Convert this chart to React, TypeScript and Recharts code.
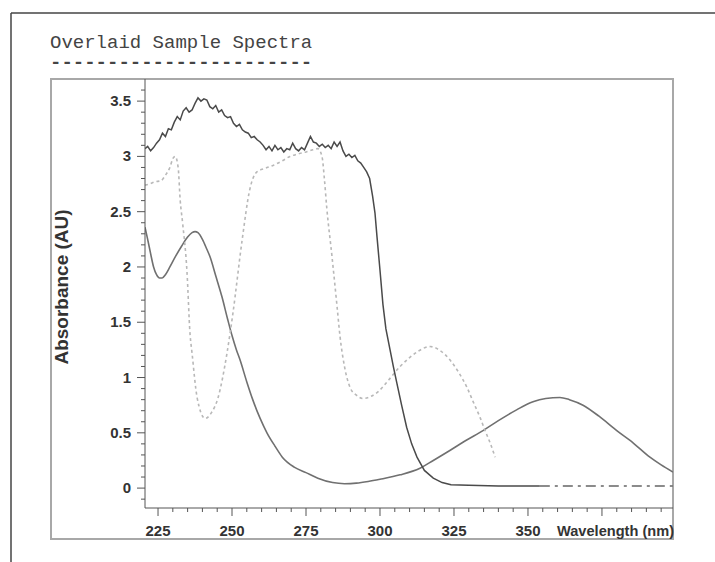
import React from "react";
import { LineChart, Line, XAxis, YAxis } from "recharts";

// ---- Data ----
const titleText = "Overlaid Sample Spectra";
const xAxisTitle = "Wavelength (nm)";
const yAxisTitle = "Absorbance (AU)";

// Series A: dark noisy spectrum (saturates, then cuts off near 300 nm)
const seriesAWavelength = [
  220.6, 221.5, 222.5, 223.5, 224.5, 225.5, 226.5, 227.5, 228.5, 229.5,
  230.5, 231.5, 232.5, 233.5, 234.5, 235.5, 236.5, 237.5, 238.5, 239.5,
  240.5, 241.5, 242.5, 243.5, 244.5, 245.5, 246.5, 247.5, 248.5, 249.5,
  250.5, 251.5, 252.5, 253.5, 254.5, 255.5, 256.5, 257.5, 258.5, 259.5,
  260.5, 261.5, 262.5, 263.5, 264.5, 265.5, 266.5, 267.5, 268.5, 269.5,
  270.5, 271.5, 272.5, 273.5, 274.5, 275.5, 276.5, 277.5, 278.5, 279.5,
  280.5, 281.5, 282.5, 283.5, 284.5, 285.5, 286.5, 287.5, 288.5, 289.5,
  290.5, 291.5, 292.5, 293.5, 294.5, 295.5, 296.5, 297.5, 298.3, 299.0,
  300.0, 301.0, 302.0, 303.4, 304.5, 305.7, 307.3, 309.0, 310.7, 312.5,
  315, 318, 321, 324, 330, 340, 354,
];
const seriesAAbsorbance = [
  3.07, 3.09, 3.05, 3.08, 3.12, 3.15, 3.21, 3.18, 3.25, 3.24,
  3.31, 3.36, 3.33, 3.41, 3.44, 3.40, 3.42, 3.48, 3.53, 3.50,
  3.52, 3.51, 3.45, 3.43, 3.46, 3.40, 3.42, 3.37, 3.35, 3.36,
  3.30, 3.27, 3.29, 3.24, 3.22, 3.21, 3.17, 3.18, 3.15, 3.13,
  3.10, 3.06, 3.09, 3.05, 3.10, 3.06, 3.08, 3.04, 3.07, 3.06,
  3.12, 3.07, 3.05, 3.08, 3.06, 3.12, 3.18, 3.13, 3.12, 3.09,
  3.11, 3.08, 3.10, 3.07, 3.13, 3.09, 3.13, 3.05, 3.00, 3.02,
  2.99, 3.01, 2.96, 2.94, 2.90, 2.86, 2.80, 2.64, 2.49, 2.27,
  1.97, 1.66, 1.44, 1.25, 1.10, 0.95, 0.75, 0.55, 0.40, 0.28,
  0.16, 0.09, 0.05, 0.03, 0.025, 0.02, 0.02,
];
// dashed baseline tail of series A
const seriesATailWavelength = [354, 370, 385, 399];
const seriesATailAbsorbance = [0.02, 0.02, 0.018, 0.02];

// Series B: light dotted spectrum
const seriesBWavelength = [
  220.6, 222, 224, 226, 227.5, 229, 230, 230.8, 231.8, 232.5,
  233.3, 234.8, 235.8, 236.5, 238.2, 240.9, 243, 245.3, 248.3, 250.3,
  253.4, 256, 258.4, 261, 264, 267, 269.6, 272, 275, 277.4,
  279, 280.4, 281.2, 282, 283.8, 285.5, 286.5, 288, 289.9, 292,
  294.3, 297, 299.3, 303, 306.8, 310, 313, 316.9, 320, 323.6,
  326.5, 329.4, 331.5, 333.8, 335.5, 337.2, 338.9,
];
const seriesBAbsorbance = [
  2.74, 2.75, 2.77, 2.78, 2.83, 2.90, 2.98, 3.00, 2.90, 2.60,
  2.40, 1.95, 1.40, 1.22, 0.82, 0.63, 0.68, 0.82, 1.22, 1.58,
  2.24, 2.70, 2.86, 2.89, 2.92, 2.96, 3.00, 3.02, 3.04, 3.06,
  3.07, 3.00, 2.80, 2.54, 2.09, 1.64, 1.37, 1.10, 0.91, 0.84,
  0.81, 0.83, 0.87, 0.98, 1.10, 1.18, 1.24, 1.28, 1.25, 1.16,
  1.05, 0.91, 0.78, 0.64, 0.52, 0.41, 0.28,
];

// Series C: medium grey smooth spectrum
const seriesCWavelength = [
  220.6, 221.5, 222.5, 223.5, 224.5, 225.5, 226.4, 227.5, 229, 231,
  233, 235, 236.5, 237.5, 238.5, 240, 241.5, 242.6, 244.5, 246.6,
  248.5, 250, 251.5, 252.7, 255, 257, 259.5, 261.8, 264.5, 267,
  271, 275, 279, 284, 288, 292, 296, 300, 306.8, 313.5,
  318, 323.6, 329, 334.8, 340, 346.3, 351.7, 356, 360.8, 364,
  368.6, 374, 380, 385.5, 391.2, 395, 399,
];
const seriesCAbsorbance = [
  2.36, 2.25, 2.12, 2.00, 1.93, 1.90, 1.90, 1.93, 2.00, 2.10,
  2.19, 2.27, 2.31, 2.32, 2.31, 2.25, 2.16, 2.09, 1.92, 1.73,
  1.53, 1.38, 1.25, 1.16, 0.96, 0.80, 0.63, 0.50, 0.38, 0.28,
  0.19, 0.14, 0.09, 0.05, 0.04, 0.045, 0.06, 0.08, 0.12, 0.18,
  0.25, 0.34, 0.43, 0.52, 0.61, 0.71, 0.78, 0.81, 0.82, 0.80,
  0.75, 0.65, 0.52, 0.41, 0.28, 0.21, 0.145,
];

// Axis ticks
const xMajorTicks = [225, 250, 275, 300, 325, 350, 375];
const xLabelledTicks = [225, 250, 275, 300, 325, 350];
const xAllTicks = Array.from({ length: 35 }, (_, i) => 225 + i * 5); // 225..395
const yMajorTicks = [0, 0.5, 1, 1.5, 2, 2.5, 3, 3.5];
const yAllTicks = Array.from({ length: 38 }, (_, i) => Math.round((i - 1) * 10) / 100); // -0.1..3.6

const xDomain = [220.6, 399];
const yDomain = [-0.18, 3.7];

const zip = (xs: number[], ys: number[]) => xs.map((x, i) => ({ wl: x, abs: ys[i] }));

const dataA = zip(seriesAWavelength, seriesAAbsorbance);
const dataATail = zip(seriesATailWavelength, seriesATailAbsorbance);
const dataB = zip(seriesBWavelength, seriesBAbsorbance);
const dataC = zip(seriesCWavelength, seriesCAbsorbance);

const TICK_FONT = "'Liberation Sans', Arial, sans-serif";
const MONO_FONT = "'Liberation Mono', 'Courier New', monospace";
const AXIS_COLOR = "#555";
const TEXT_COLOR = "#333";

const XTick = (props: any) => {
  const { x, y, payload } = props;
  const v = payload.value;
  const isMajor = xMajorTicks.includes(v);
  const hasLabel = xLabelledTicks.includes(v);
  return (
    <g>
      <line x1={x} x2={x} y1={y} y2={y + (isMajor ? 8 : 4)} stroke={AXIS_COLOR} strokeWidth={1} />
      {hasLabel && (
        <text x={x} y={y + 28} textAnchor="middle" fontSize={15} fontWeight="bold" fontFamily={TICK_FONT} fill={TEXT_COLOR}>
          {v}
        </text>
      )}
    </g>
  );
};

const YTick = (props: any) => {
  const { x, y, payload } = props;
  const v = payload.value;
  const isMajor = yMajorTicks.some((m) => Math.abs(m - v) < 1e-6);
  return (
    <g>
      <line x1={x - (isMajor ? 8 : 4)} x2={x} y1={y} y2={y} stroke={AXIS_COLOR} strokeWidth={1} />
      {isMajor && (
        <text x={x - 14} y={y + 5} textAnchor="end" fontSize={15} fontWeight="bold" fontFamily={TICK_FONT} fill={TEXT_COLOR}>
          {String(v)}
        </text>
      )}
    </g>
  );
};

export default function App() {
  return (
    <div style={{ position: "absolute", left: 0, top: 0, width: 715, height: 562, background: "#fff" }}>
      <svg width={715} height={562} style={{ position: "absolute", left: 0, top: 0 }}>
        {/* outer page frame */}
        <line x1={11} y1={13} x2={715} y2={13} stroke="#444" strokeWidth={1.5} />
        <line x1={11} y1={13} x2={11} y2={562} stroke="#444" strokeWidth={1.5} />
        {/* title */}
        <text x={50} y={48} fontSize={19} fontFamily={MONO_FONT} fill="#444">
          {titleText}
        </text>
        <text x={50} y={68} fontSize={19} fontWeight="bold" fontFamily={MONO_FONT} fill="#444">
          {"-".repeat(titleText.length)}
        </text>
        {/* inner chart frame */}
        <rect x={51} y={79} width={622} height={460} fill="none" stroke="#a8a8a8" strokeWidth={2} />
        {/* axis titles */}
        <text
          x={0}
          y={0}
          transform="translate(68,287) rotate(-90)"
          textAnchor="middle"
          fontSize={19}
          fontWeight="bold"
          fontFamily={TICK_FONT}
          fill={TEXT_COLOR}
        >
          {yAxisTitle}
        </text>
        <text x={674} y={536} textAnchor="end" fontSize={15} fontWeight="bold" fontFamily={TICK_FONT} fill={TEXT_COLOR} textLength={117} lengthAdjust="spacingAndGlyphs">
          {xAxisTitle}
        </text>
      </svg>
      <div style={{ position: "absolute", left: 0, top: 0 }}>
        <LineChart width={715} height={562} margin={{ top: 79, right: 42, bottom: 24, left: 85 }}>
          <XAxis
            type="number"
            dataKey="wl"
            domain={xDomain}
            allowDataOverflow
            ticks={xAllTicks}
            interval={0}
            tick={<XTick />}
            tickLine={false}
            tickSize={0}
            tickMargin={0}
            height={30}
            stroke={AXIS_COLOR}
          />
          <YAxis
            type="number"
            dataKey="abs"
            domain={yDomain}
            allowDataOverflow
            ticks={yAllTicks}
            interval={0}
            tick={<YTick />}
            tickLine={false}
            tickSize={0}
            tickMargin={0}
            width={60}
            stroke={AXIS_COLOR}
          />
          <Line
            data={dataC}
            dataKey="abs"
            type="monotone"
            stroke="#707070"
            strokeWidth={1.6}
            dot={false}
            isAnimationActive={false}
          />
          <Line
            data={dataB}
            dataKey="abs"
            type="monotone"
            stroke="#b8b8b8"
            strokeWidth={1.6}
            strokeDasharray="3 3"
            dot={false}
            isAnimationActive={false}
          />
          <Line
            data={dataA}
            dataKey="abs"
            type="linear"
            stroke="#4a4a4a"
            strokeWidth={1.5}
            dot={false}
            isAnimationActive={false}
          />
          <Line
            data={dataATail}
            dataKey="abs"
            type="linear"
            stroke="#666"
            strokeWidth={1.5}
            strokeDasharray="10 5 3 5"
            dot={false}
            isAnimationActive={false}
          />
        </LineChart>
      </div>
    </div>
  );
}
